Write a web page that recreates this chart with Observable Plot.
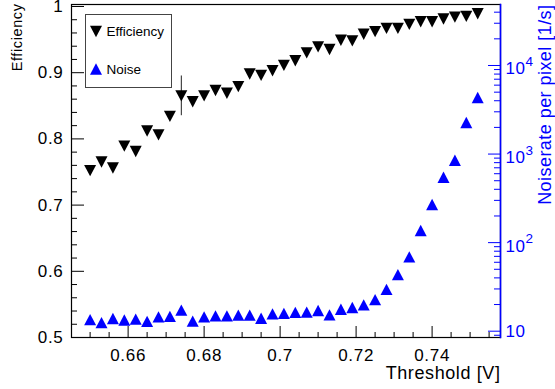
<!DOCTYPE html>
<html><head><meta charset="utf-8">
<script src="https://cdn.jsdelivr.net/npm/d3@7"></script>
<script src="https://cdn.jsdelivr.net/npm/@observablehq/plot@0.6"></script>
<style>
body{margin:0;background:#fff;}
#chart{position:relative;width:555px;height:389px;}
#chart svg{position:absolute;left:0;top:0;}
</style></head><body><div id="chart"></div>
<script>
// ---- data ----
const threshold = [0.650,0.653,0.656,0.659,0.662,0.665,0.668,0.671,0.674,0.677,0.680,0.683,0.686,0.689,0.692,0.695,0.698,0.701,0.704,0.707,0.710,0.713,0.716,0.719,0.722,0.725,0.728,0.731,0.734,0.737,0.740,0.743,0.746,0.749,0.752];
const efficiency = [0.752,0.765,0.756,0.789,0.781,0.812,0.806,0.834,0.865,0.856,0.865,0.873,0.869,0.879,0.898,0.896,0.903,0.911,0.918,0.930,0.939,0.935,0.949,0.948,0.958,0.962,0.967,0.967,0.973,0.977,0.977,0.981,0.984,0.985,0.989];
const efficiencyErr = [0,0,0,0,0,0,0,0,0.030,0,0,0,0,0,0,0,0,0,0,0,0,0,0,0,0,0,0,0,0,0,0,0,0,0,0];
const noiseRate = [13.5,12.5,13.9,13.4,13.7,12.9,14.5,14.7,17.3,13.0,14.5,14.9,14.9,15.2,15.2,14.0,15.7,15.9,16.3,16.4,17.1,15.3,17.7,18.5,19.8,22.7,29.7,43.5,69,137,269,547,851,2270,4350];
const xTicks = [0.66,0.68,0.70,0.72,0.74];
const xMinorTicks = [0.650,0.655,0.665,0.670,0.675,0.685,0.690,0.695,0.705,0.710,0.715,0.725,0.730,0.735,0.745,0.750,0.755];
const effTicks = [0.5,0.6,0.7,0.8,0.9,1.0];
const effMinorTicks = [0.52,0.54,0.56,0.58,0.62,0.64,0.66,0.68,0.72,0.74,0.76,0.78,0.82,0.84,0.86,0.88,0.92,0.94,0.96,0.98];
const noiseTicks = [10,100,1000,10000];
const noiseMinorTicks = [9,20,30,40,50,60,70,80,90,200,300,400,500,600,700,800,900,2000,3000,4000,5000,6000,7000,8000,9000,20000,30000,40000];
const legendLabels = ["Efficiency","Noise"];
const xTitle = "Threshold [V]";
const effTitle = "Efficiency";
const noiseTitle = "Noiserate per pixel [1/s]";

// ---- layout ----
const W = 555, H = 389, mL = 71, mR = 55, mT = 4, mB = 52;
const xDomain = [0.6451, 0.758];
const font = "'Liberation Sans', Arial, Helvetica, sans-serif";
const BLUE = "#0000ff";
const fmt = d => `${+d.toFixed(3)}`;

const rows = threshold.map((t, i) => ({t, eff: efficiency[i], err: efficiencyErr[i], noise: noiseRate[i]}));

const triDown = {draw(c, size) { const r = Math.sqrt(size / Math.PI), h = r * 0.95;
  c.moveTo(-r, -h); c.lineTo(r, -h); c.lineTo(0, h); c.closePath(); }};
const triUp = {draw(c, size) { const r = Math.sqrt(size / Math.PI), h = r * 0.95;
  c.moveTo(0, -h); c.lineTo(r, h); c.lineTo(-r, h); c.closePath(); }};

const chartA = Plot.plot({
  width: W, height: H, marginLeft: mL, marginRight: mR, marginTop: mT, marginBottom: mB,
  style: {fontFamily: font, fontSize: "17px", background: "white", color: "black", overflow: "visible"},
  x: {domain: xDomain},
  y: {domain: [0.5, 1.003]},
  marks: [
    Plot.axisX({ticks: xMinorTicks, tickSize: -5, text: null, label: null}),
    Plot.axisX({ticks: xTicks, tickSize: -11, text: null, label: null}),
    Plot.axisX({ticks: xTicks, tickSize: 0, tickPadding: 11, label: null, fontSize: 17, tickFormat: fmt}),
    Plot.axisY({ticks: effMinorTicks, tickSize: -6, text: null, label: null}),
    Plot.axisY({ticks: effTicks, tickSize: -13, text: null, label: null}),
    Plot.axisY({ticks: effTicks, tickSize: 0, tickPadding: 8, label: null, fontSize: 17, tickFormat: fmt}),
    Plot.frame({stroke: "black", strokeWidth: 1.2}),
    Plot.ruleX(rows.filter(d => d.err > 0), {x: "t", y1: d => d.eff - d.err, y2: d => d.eff + d.err, stroke: "#222", strokeWidth: 1}),
    Plot.dot(rows, {x: "t", y: "eff", symbol: triDown, r: 6, fill: "black"}),
    Plot.text([xTitle], {frameAnchor: "bottom-right", textAnchor: "end", lineAnchor: "middle", dy: 36, fontSize: 18}),
    Plot.text([effTitle], {frameAnchor: "top-left", rotate: -90, textAnchor: "end", lineAnchor: "middle", dx: -54, dy: -1, fontSize: 14.5})
  ]
});

const chartB = Plot.plot({
  width: W, height: H, marginLeft: mL, marginRight: mR, marginTop: mT, marginBottom: mB,
  style: {fontFamily: font, fontSize: "17px", background: "transparent", color: BLUE},
  x: {domain: xDomain, axis: null},
  y: {type: "log", domain: [8.489, 48830]},
  marks: [
    Plot.axisY({anchor: "right", ticks: noiseMinorTicks, tickSize: -7, text: null, label: null, stroke: BLUE}),
    Plot.axisY({anchor: "right", ticks: noiseTicks, tickSize: -13, text: null, label: null, stroke: BLUE}),
    Plot.axisY({anchor: "right", ticks: noiseTicks, tickSize: 0, tickPadding: 5, label: null, fill: BLUE, fontSize: 17,
      tickFormat: d => d === 10 ? "10" : "10^" + Math.round(Math.log10(d))}),
    Plot.frame({anchor: "right", stroke: BLUE, strokeWidth: 1.6}),
    Plot.dot(rows, {x: "t", y: "noise", symbol: triUp, r: 6, fill: BLUE}),
    Plot.text([noiseTitle], {frameAnchor: "top-right", rotate: -90, textAnchor: "end", lineAnchor: "middle", dx: 45, fill: BLUE, fontSize: 18})
  ]
});

const host = document.getElementById("chart");
host.appendChild(chartA);
host.appendChild(chartB);

// letter spacing to mimic the wider original glyphs
d3.select(chartA).selectAll('g[aria-label="x-axis tick label"] text, g[aria-label="y-axis tick label"] text').style("letter-spacing", "0.7px");
d3.select(chartA).selectAll('g[aria-label="text"] text').style("letter-spacing", "0.6px");
d3.select(chartB).selectAll('g[aria-label="text"] text').style("letter-spacing", "0.45px");
d3.select(chartB).selectAll('g[aria-label="y-axis tick label"] text').style("letter-spacing", "0.6px");

// superscripts on log labels
d3.select(chartB).selectAll('g[aria-label="y-axis tick label"] text').each(function() {
  const s = this.textContent;
  if (s.includes("^")) {
    const [b, e] = s.split("^");
    const t = d3.select(this);
    t.text(null);
    t.append("tspan").attr("dy", 3.5).text(b);
    t.append("tspan").attr("dy", -8.3).attr("font-size", 13.5).text(e);
  }
});

// legend
const lg = d3.select(chartB).append("g").attr("font-family", font).attr("font-size", 13.5).attr("text-anchor", "start");
lg.append("rect").attr("x", 85.5).attr("y", 14.5).attr("width", 86).attr("height", 73)
  .attr("fill", "white").attr("stroke", "#444").attr("stroke-width", 1);
const legendItems = [{label: legendLabels[0], sym: triDown, color: "black", y: 31.5},
                     {label: legendLabels[1], sym: triUp, color: BLUE, y: 69}];
for (const it of legendItems) {
  lg.append("path").attr("transform", `translate(96,${it.y})`)
    .attr("d", d3.symbol(it.sym, Math.PI * 36)()).attr("fill", it.color);
  lg.append("text").attr("x", 106.5).attr("y", it.y).attr("dy", "0.36em").attr("text-anchor", "start")
    .attr("fill", "black").text(it.label);
}
</script></body></html>
